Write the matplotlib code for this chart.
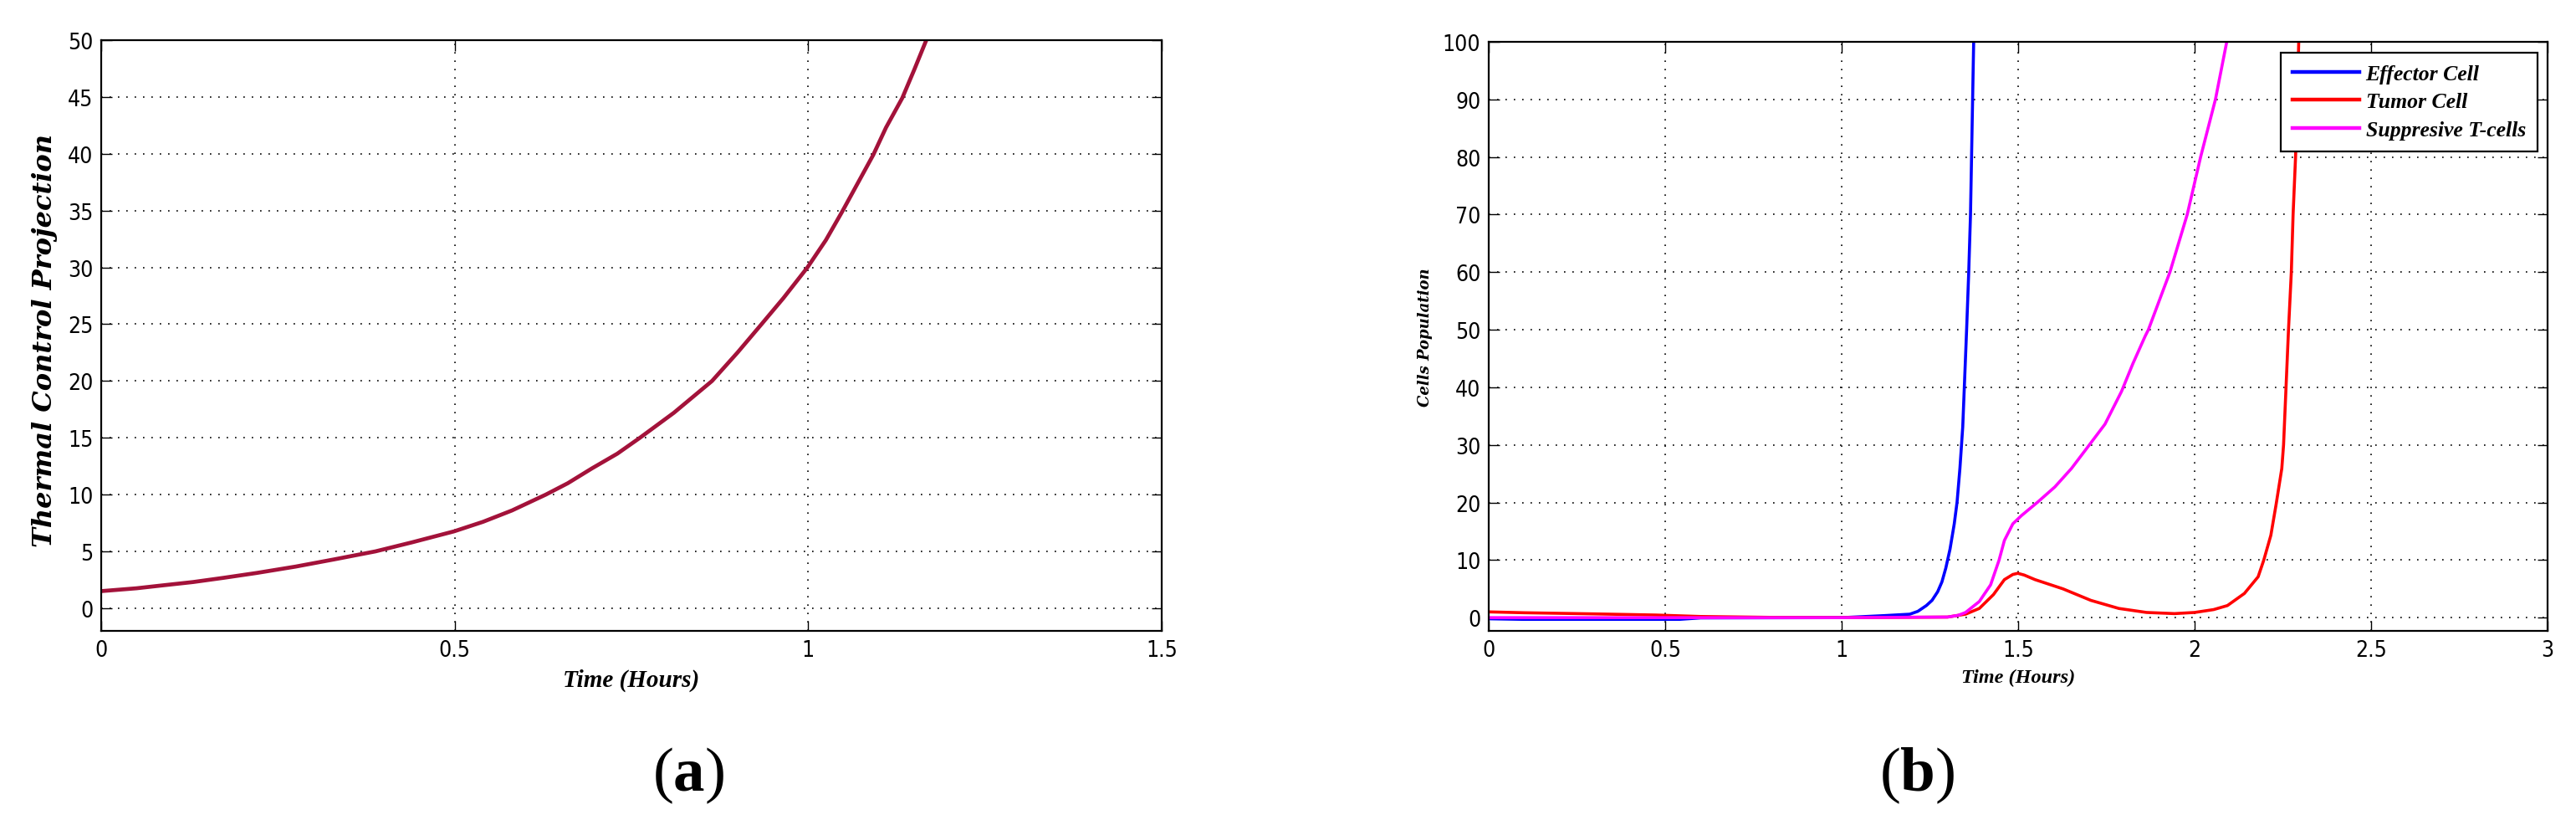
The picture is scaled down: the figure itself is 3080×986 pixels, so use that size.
import matplotlib
matplotlib.use("Agg")
import matplotlib.pyplot as plt
from matplotlib import font_manager
from matplotlib.font_manager import FontProperties
from matplotlib.ticker import FormatStrFormatter, MultipleLocator

# ---------------- data ----------------
# (a) Thermal control projection
t_a = [0, 0.05, 0.083, 0.13, 0.173, 0.22, 0.275, 0.33, 0.388, 0.44, 0.499,
       0.54, 0.581, 0.629, 0.66, 0.694, 0.73, 0.762, 0.81, 0.864, 0.90,
       0.934, 0.965, 0.999, 1.025, 1.048, 1.07, 1.092, 1.11, 1.133, 1.15, 1.167]
thermal = [1.5, 1.75, 1.98, 2.3, 2.67, 3.1, 3.66, 4.3, 5.0, 5.8, 6.76,
           7.6, 8.6, 10.0, 11.0, 12.3, 13.6, 15.0, 17.2, 20.0, 22.5,
           25.0, 27.3, 30.0, 32.4, 34.9, 37.4, 39.9, 42.3, 44.9, 47.4, 50.0]

# (b) Cell populations
t_eff = [0, 0.1, 0.54, 0.6, 1.0, 1.12, 1.193, 1.216, 1.240, 1.256, 1.272, 1.284,
         1.295, 1.307, 1.319, 1.327, 1.335, 1.343, 1.3475, 1.354, 1.360, 1.365,
         1.368, 1.371, 1.374]
effector = [-0.2, -0.3, -0.3, -0.05, 0.0, 0.35, 0.6, 1.1, 2.1, 3.0, 4.5, 6.2,
            8.6, 11.9, 16.3, 20.1, 25.9, 33.1, 40, 50, 60, 70,
            80, 90, 100]

t_tum = [0, 0.1, 0.3, 0.475, 0.6, 0.8, 1.0, 1.3, 1.351, 1.390, 1.430, 1.461,
         1.485, 1.499, 1.517, 1.548, 1.627, 1.706, 1.785, 1.864, 1.943, 2.0,
         2.054, 2.093, 2.141, 2.180, 2.196, 2.216, 2.231, 2.247, 2.252, 2.259,
         2.266, 2.274, 2.279, 2.286, 2.291, 2.295]
tumor = [1.0, 0.85, 0.65, 0.45, 0.2, 0.05, 0.0, 0.1, 0.6, 1.6, 4.0, 6.6,
         7.5, 7.7, 7.4, 6.6, 5.0, 3.0, 1.6, 0.9, 0.7, 0.9,
         1.4, 2.1, 4.2, 7.1, 10.0, 14.3, 19.7, 25.9, 30, 40,
         50, 60, 70, 80, 90, 100]

t_sup = [0, 0.5, 1.0, 1.30, 1.33, 1.351, 1.390, 1.422, 1.446, 1.461, 1.485,
         1.509, 1.556, 1.604, 1.651, 1.698, 1.746, 1.793, 1.825, 1.860, 1.869,
         1.930, 1.979, 2.017, 2.059, 2.091]
suppressive = [0.0, 0.0, 0.0, 0.1, 0.4, 0.9, 2.8, 5.7, 10.0, 13.4, 16.3,
               17.7, 20.1, 22.7, 25.9, 29.7, 33.6, 39.3, 44.1, 48.9, 50,
               60, 70, 80, 90, 100]

series_labels = ["Effector Cell", "Tumor Cell", "Suppresive T-cells"]
xticks_a = [0, 0.5, 1.0, 1.5]
xticks_b = [0, 0.5, 1.0, 1.5, 2.0, 2.5, 3.0]

# ---------------- fonts ----------------
def pick_narrow():
    files = [f for f in font_manager.fontManager.ttflist]
    for f in files:
        if f.name == "Liberation Sans Narrow" and f.weight in (400, "normal") and f.style == "normal":
            return FontProperties(fname=f.fname)
    for f in files:
        fn = f.fname.lower()
        if "dejavusanscondensed.ttf" in fn:
            return FontProperties(fname=f.fname)
    for f in files:
        fn = f.fname.lower()
        if ("narrow" in fn or "condensed" in fn) and "bold" not in fn and "oblique" not in fn and "italic" not in fn and "sans" in fn:
            return FontProperties(fname=f.fname)
    return FontProperties(family="Liberation Sans")


tick_fp = pick_narrow()
tick_fp.set_size(19)

plt.rcParams["mathtext.fontset"] = "custom"
plt.rcParams["mathtext.rm"] = "Liberation Serif"
plt.rcParams["mathtext.bf"] = "Liberation Serif:bold"

W, H = 3080, 987
fig = plt.figure(figsize=(W / 100, H / 100), dpi=100)


def px_axes(x0, y0, x1, y1):
    return fig.add_axes([x0 / W, 1 - y1 / H, (x1 - x0) / W, (y1 - y0) / H])


def style(ax, xt, ylim, ystep, xlim):
    ax.set_xlim(*xlim)
    ax.set_xticks(xt)
    ax.yaxis.set_major_locator(MultipleLocator(ystep))
    ax.set_ylim(*ylim)
    ax.xaxis.set_major_formatter(FormatStrFormatter("%g"))
    ax.yaxis.set_major_formatter(FormatStrFormatter("%g"))
    ax.grid(True, linestyle=(0, (1, 5)), color="black", linewidth=1.2)
    ax.tick_params(direction="in", length=9, width=1.0, top=True, right=True,
                   colors="black")
    ax.tick_params(axis="x", pad=7)
    ax.tick_params(axis="y", pad=7)
    for lab in ax.get_xticklabels() + ax.get_yticklabels():
        lab.set_fontproperties(tick_fp)
    for s in ax.spines.values():
        s.set_linewidth(1.6)
        s.set_color("black")
    ax.set_axisbelow(True)


# ---------------- (a) ----------------
ax1 = px_axes(121, 49, 1389, 755)
ax1.plot(t_a, thermal, color="#A3123A", linewidth=3.4)
style(ax1, xticks_a, (-2, 50), 5, (0, 1.5))
ax1.set_xlabel("Time (Hours)", family="Liberation Serif", style="italic",
               weight="bold", fontsize=21, va="center")
ax1.xaxis.set_label_coords(0.5, (755 - 813) / 706)
ax1.set_ylabel("Thermal Control Projection", family="DejaVu Serif", style="italic",
               weight="bold", fontsize=23, va="center")
ax1.yaxis.set_label_coords((54 - 121) / 1268, 0.493)

# ---------------- (b) ----------------
ax2 = px_axes(1780, 51, 3046, 755)
ax2.plot(t_eff, effector, color="#0000FF", linewidth=2.6, label=series_labels[0])
ax2.plot(t_tum, tumor, color="#FF0000", linewidth=2.6, label=series_labels[1])
ax2.plot(t_sup, suppressive, color="#FF00FF", linewidth=2.6, label=series_labels[2])
style(ax2, xticks_b, (-2.3, 100), 10, (0, 3))
ax2.set_xlabel("Time (Hours)", family="Liberation Serif", style="italic",
               weight="bold", fontsize=17.5, va="center")
ax2.xaxis.set_label_coords(0.5, (755 - 810) / 704)
ax2.set_ylabel("Cells Population", family="DejaVu Serif", style="italic",
               weight="bold", fontsize=13, va="center")
ax2.yaxis.set_label_coords((1704 - 1780) / 1266, 0.5)

leg = ax2.legend(loc="upper right", bbox_to_anchor=(0.9905, 0.9815),
                 borderaxespad=0, fancybox=False, framealpha=1,
                 edgecolor="black", handlelength=3.1, handletextpad=0.3,
                 labelspacing=0.4, borderpad=0.55,
                 prop={"family": "Liberation Serif", "style": "italic",
                       "weight": "bold", "size": 18.5})
leg.get_frame().set_linewidth(1.6)
for ln in leg.get_lines():
    ln.set_linewidth(3.2)

# ---------------- panel labels ----------------
fig.text(823 / W, 1 - 927 / H, r"$(\mathbf{a})$", fontsize=54, ha="center", va="center")
fig.text(2292 / W, 1 - 927 / H, r"$(\mathbf{b})$", fontsize=54, ha="center", va="center")

fig.savefig("out.png", dpi=100, facecolor="white")
